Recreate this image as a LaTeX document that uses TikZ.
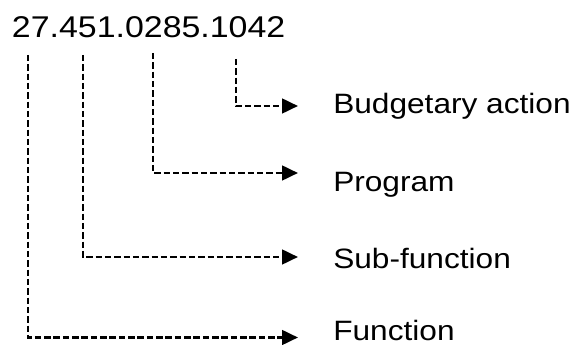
\documentclass[tikz,border=0pt]{standalone}
\usepackage{fontspec}
\setmainfont{Liberation Sans}
\usetikzlibrary{arrows.meta}
\tikzset{
  conn/.style={line width=2pt, dash pattern=on 4.8pt off 2.2pt, -{Triangle[length=12pt,width=11pt]}},
  lbl/.style={anchor=base west, inner sep=0pt, font=\fontsize{21}{25}\selectfont},
  ttl/.style={anchor=base west, inner sep=0pt, font=\fontsize{22.5}{27}\selectfont}
}
\begin{document}
\begin{tikzpicture}[x=0.75pt, y=-0.75pt]
\useasboundingbox (0,0) rectangle (576,345);
\node[ttl] (title) at (11.7,38) {\scalebox{1.13}[1]{27.451.0285.1042}};
\node[lbl] (ba) at (333,114) {\scalebox{1.13}[1]{Budgetary action}};
\node[lbl] (pr) at (333,192) {\scalebox{1.13}[1]{Program}};
\node[lbl] (sf) at (333,268.5) {\scalebox{1.13}[1]{Sub-function}};
\node[lbl] (fn) at (333,341) {\scalebox{1.13}[1]{Function}};
\coordinate (t4) at (236,59);
\coordinate (t3) at (153,53);
\coordinate (t2) at (83,55);
\coordinate (t1) at (28,55);
\coordinate (e4) at (298,106);
\coordinate (e3) at (298,173);
\coordinate (e2) at (298,257);
\coordinate (e1) at (298,337.5);
\draw[conn] (t4) |- (e4);
\draw[conn] (t3) |- (e3);
\draw[conn] (t2) |- (e2);
\draw[conn] (t1) |- (e1);
\end{tikzpicture}
\end{document}
